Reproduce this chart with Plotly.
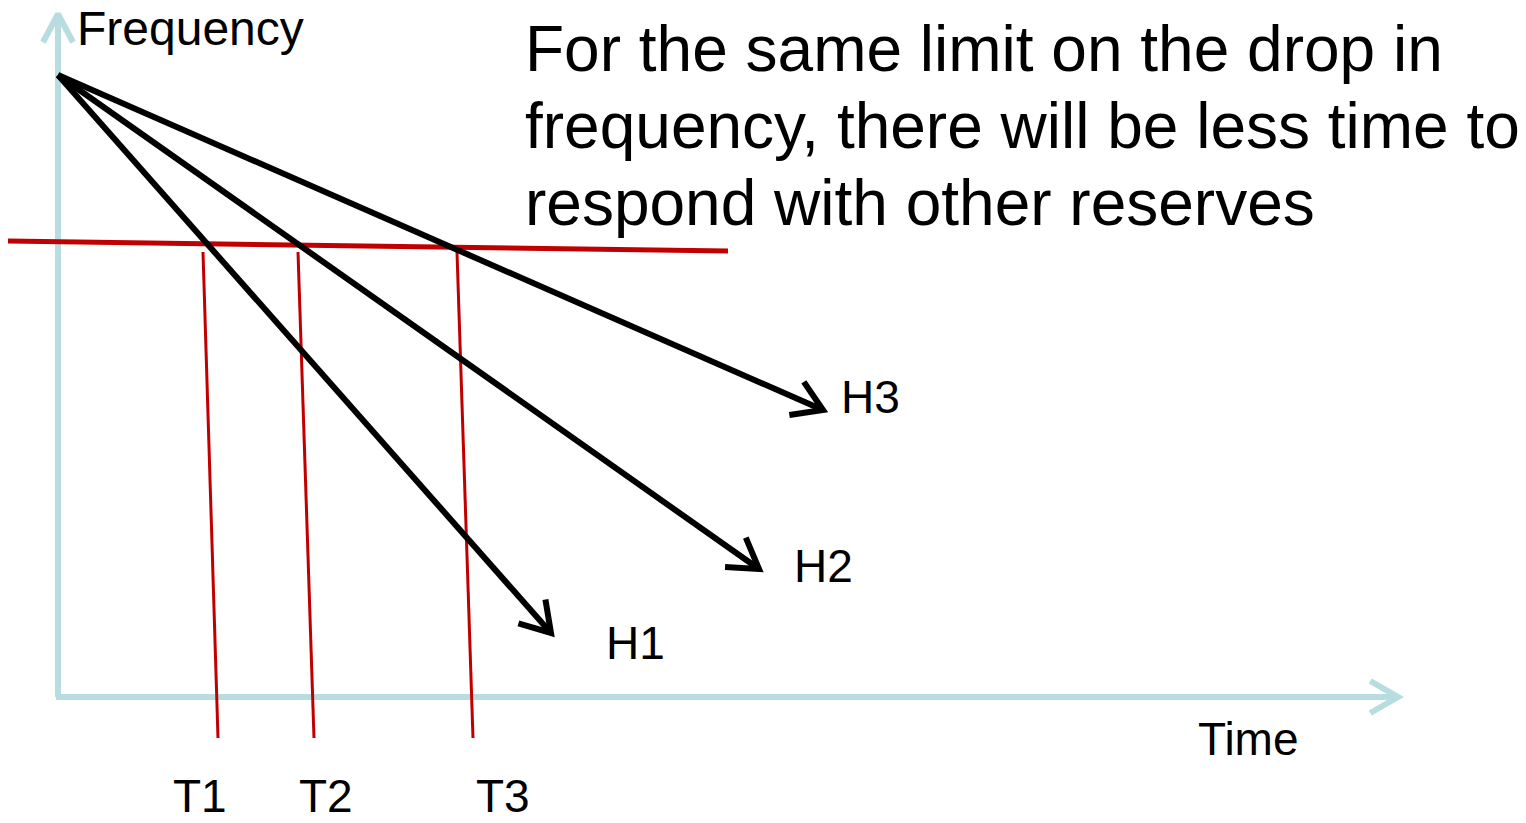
import math
import plotly.graph_objects as go

W, H = 1526, 823

# Axis arrows (light blue)
axis_color = "#B7DDE0"
freq_axis_x = [58, 58]
freq_axis_y = [697, 14]
time_axis_x = [56, 1398]
time_axis_y = [697, 697]

# Frequency decline curves for three inertia levels, starting at a common point
start_x, start_y = 58, 75
curve_names = ["H1", "H2", "H3"]
curve_end_x = [551, 759, 823]
curve_end_y = [633, 569, 410]
curve_label_x = [604, 792, 839]
curve_label_y = [643, 566, 397]

# Frequency limit line and the times each curve crosses it
limit_x = [8, 728]
limit_y = [241, 251]
cross_names = ["T1", "T2", "T3"]
cross_top_x = [203, 298, 457]
cross_bottom_x = [218, 314, 473]
cross_top_y = 252
cross_bottom_y = 738
cross_label_x = [171, 297, 474]
cross_label_y = 796

headline = ["For the same limit on the drop in",
            "frequency, there will be less time to",
            "respond with other reserves"]

FONT = "Liberation Sans, Arial, sans-serif"
fig = go.Figure()


def arrow_head(tx, ty, fx, fy, length, half_angle_deg):
    ang = math.atan2(fy - ty, fx - tx)
    a = math.radians(half_angle_deg)
    p1 = (tx + length * math.cos(ang + a), ty + length * math.sin(ang + a))
    p2 = (tx + length * math.cos(ang - a), ty + length * math.sin(ang - a))
    return [p1[0], tx, p2[0]], [p1[1], ty, p2[1]]


def add_line(xs, ys, color, width):
    fig.add_trace(go.Scatter(x=xs, y=ys, mode="lines",
                             line=dict(color=color, width=width),
                             hoverinfo="skip", showlegend=False))


# axes with open arrowheads
add_line(freq_axis_x, freq_axis_y, axis_color, 6)
hx, hy = arrow_head(freq_axis_x[1], freq_axis_y[1], freq_axis_x[0], freq_axis_y[0], 32, 28)
add_line(hx, hy, axis_color, 6)
add_line(time_axis_x, time_axis_y, axis_color, 6)
hx, hy = arrow_head(time_axis_x[1], time_axis_y[1], time_axis_x[0], time_axis_y[0], 32, 30)
add_line(hx, hy, axis_color, 6)

# red limit line and crossing markers
add_line(limit_x, limit_y, "#C00000", 5)
for tx, bx in zip(cross_top_x, cross_bottom_x):
    add_line([tx, bx], [cross_top_y, cross_bottom_y], "#C00000", 3)

# black decline arrows
for ex, ey in zip(curve_end_x, curve_end_y):
    add_line([start_x, ex], [start_y, ey], "black", 6)
    hx, hy = arrow_head(ex, ey, start_x, start_y, 34, 32)
    add_line(hx, hy, "black", 6)

annotations = []


def label(x, y, text, size, anchor="left"):
    annotations.append(dict(x=x, y=y, text=text, showarrow=False,
                            xanchor=anchor, yanchor="middle",
                            xref="x", yref="y",
                            font=dict(family=FONT, size=size, color="black")))


label(75, 28, "Frequency", 48)
label(1196, 739, "Time", 46)
for name, x, y in zip(curve_names, curve_label_x, curve_label_y):
    label(x, y, name, 46)
for name, x in zip(cross_names, cross_label_x):
    label(x, cross_label_y, name, 46)
for i, line in enumerate(headline):
    label(523, 49 + i * 77, line, 64)

fig.update_layout(
    width=W, height=H,
    margin=dict(l=0, r=0, t=0, b=0),
    paper_bgcolor="white", plot_bgcolor="white",
    xaxis=dict(range=[0, W], visible=False, fixedrange=True),
    yaxis=dict(range=[H, 0], visible=False, fixedrange=True),
    annotations=annotations,
)

fig.write_html("out.html")
